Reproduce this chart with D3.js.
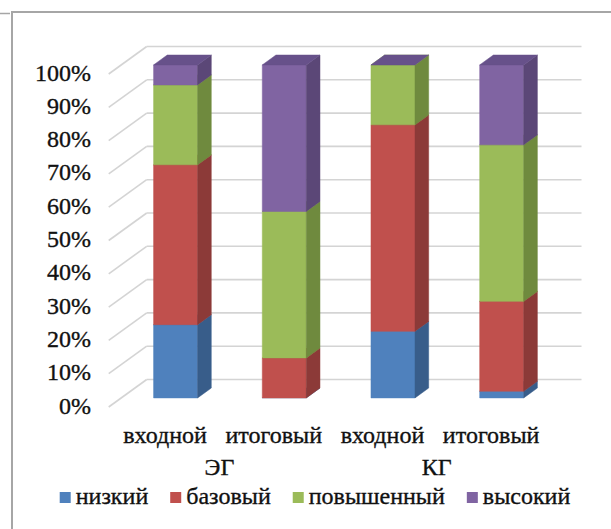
<!DOCTYPE html>
<html>
<head>
<meta charset="utf-8">
<script src="https://cdn.jsdelivr.net/npm/d3@7/dist/d3.min.js"></script>
<style>
  html, body { margin: 0; padding: 0; background: #fff; }
  svg { display: block; }
</style>
</head>
<body>
<svg id="chart" width="611" height="529"></svg>
<script>
// Level distribution (%) for the experimental (ЭГ) and control (КГ) groups
const categories = ["входной", "итоговый", "входной", "итоговый"];
const groups = [
  { name: "ЭГ", members: [0, 1] },
  { name: "КГ", members: [2, 3] }
];
const seriesNames = ["низкий", "базовый", "повышенный", "высокий"];
const low      = [22, 0, 20, 2];
const base     = [48, 12, 62, 27];
const advanced = [24, 44, 18, 47];
const high     = [6, 44, 0, 24];
const yTicks = [0, 10, 20, 30, 40, 50, 60, 70, 80, 90, 100];

const seriesValues = [low, base, advanced, high];
const faceColors = [
  { front: "#4F81BD", side: "#385D8A", top: "#4672A8" },
  { front: "#C0504D", side: "#8C3A38", top: "#A94644" },
  { front: "#9BBB59", side: "#6F8A3E", top: "#89A54E" },
  { front: "#8064A2", side: "#5B4777", top: "#67518A" }
];

const FONT = "Liberation Serif";
const FONT_SIZE = 24;

const svg = d3.select("#chart");

// Oblique projection: depth d in [0,1] from the front edge to the back wall
const DEPTH_X = 38, DEPTH_Y = -27.5;
const BAR_D0 = 0.33, BAR_D1 = 0.69;

const y = d3.scaleLinear().domain([0, 100]).range([407, 74]);
const x = d3.scaleBand()
  .domain(d3.range(categories.length))
  .range([108.7, 543.5])
  .paddingInner(0.595)
  .paddingOuter(0.2975);

const px = (xv, d) => xv + DEPTH_X * d;
const py = (v, d) => y(v) + DEPTH_Y * d;

// Chart frame
const frame = svg.append("g").attr("stroke", "#A6A6A6").attr("stroke-width", 2).attr("fill", "none");
frame.append("line").attr("x1", 12).attr("y1", 11).attr("x2", 12).attr("y2", 529);
frame.append("line").attr("x1", 11).attr("y1", 12).attr("x2", 611).attr("y2", 12);
frame.append("line").attr("x1", 0).attr("y1", 13.5).attr("x2", 10).attr("y2", 13.5).attr("stroke-width", 1.5);

// Gridlines on the back wall and the side wall
const wallLeft = x.range()[0], wallRight = x.range()[1];
const grid = svg.append("g").attr("stroke", "#D4D4D4").attr("stroke-width", 1.6).attr("fill", "none");
yTicks.forEach(t => {
  grid.append("line")
    .attr("x1", px(wallLeft, 1)).attr("y1", py(t, 1))
    .attr("x2", px(wallRight, 1)).attr("y2", py(t, 1));
  grid.append("line")
    .attr("x1", px(wallLeft, 0)).attr("y1", py(t, 0))
    .attr("x2", px(wallLeft, 1)).attr("y2", py(t, 1));
});

const label = sel => sel
  .style("font-family", FONT)
  .style("font-size", FONT_SIZE + "px")
  .attr("fill", "#111")
  .attr("stroke", "#111")
  .attr("stroke-width", 0.35);

// Value axis labels
svg.append("g").selectAll("text")
  .data(yTicks)
  .join("text")
  .call(label)
  .attr("x", 91)
  .attr("y", t => y(t) + 6.5)
  .attr("text-anchor", "end")
  .text(t => t + "%");

// Stacked 3D columns
const stackData = categories.map((c, i) => {
  const row = { index: i };
  seriesNames.forEach((s, k) => { row[s] = seriesValues[k][i]; });
  return row;
});
const stacked = d3.stack().keys(seriesNames)(stackData);

const poly = pts => pts.map(p => p.join(",")).join(" ");
const bars = svg.append("g");
categories.forEach((c, i) => {
  const x0 = x(i), x1 = x(i) + x.bandwidth();
  const g = bars.append("g");
  stacked.forEach((layer, k) => {
    const [v0, v1] = layer[i];
    const col = faceColors[k];
    if (v1 > v0) {
      // front face
      g.append("polygon")
        .attr("points", poly([
          [px(x0, BAR_D0), py(v0, BAR_D0)], [px(x1, BAR_D0), py(v0, BAR_D0)],
          [px(x1, BAR_D0), py(v1, BAR_D0)], [px(x0, BAR_D0), py(v1, BAR_D0)]
        ]))
        .attr("fill", col.front).attr("stroke", col.front).attr("stroke-width", 0.5);
      // right side face
      g.append("polygon")
        .attr("points", poly([
          [px(x1, BAR_D0), py(v0, BAR_D0)], [px(x1, BAR_D1), py(v0, BAR_D1)],
          [px(x1, BAR_D1), py(v1, BAR_D1)], [px(x1, BAR_D0), py(v1, BAR_D0)]
        ]))
        .attr("fill", col.side).attr("stroke", col.side).attr("stroke-width", 0.5);
    }
    // top face
    g.append("polygon")
      .attr("points", poly([
        [px(x0, BAR_D0), py(v1, BAR_D0)], [px(x1, BAR_D0), py(v1, BAR_D0)],
        [px(x1, BAR_D1), py(v1, BAR_D1)], [px(x0, BAR_D1), py(v1, BAR_D1)]
      ]))
      .attr("fill", col.top).attr("stroke", col.top).attr("stroke-width", 0.5);
  });
});

// Category labels and group labels
const catCenter = i => x(i) + x.bandwidth() / 2 + 2;
svg.append("g").selectAll("text")
  .data(categories)
  .join("text")
  .call(label)
  .attr("x", (d, i) => catCenter(i))
  .attr("y", 443)
  .attr("text-anchor", "middle")
  .text(d => d);

svg.append("g").selectAll("text")
  .data(groups)
  .join("text")
  .call(label)
  .attr("x", g => d3.mean(g.members, catCenter))
  .attr("y", 475)
  .attr("text-anchor", "middle")
  .text(g => g.name);

// Legend
const legend = svg.append("g");
const items = legend.selectAll("g").data(seriesNames).join("g");
items.append("rect")
  .attr("width", 11).attr("height", 11)
  .attr("y", 492)
  .attr("fill", (d, k) => faceColors[k].front);
items.append("text")
  .call(label)
  .attr("x", 16)
  .attr("y", 504)
  .text(d => d);
const GAP = 22;
let cursor = 0;
const offsets = [];
items.each(function () {
  offsets.push(cursor);
  cursor += 16 + this.querySelector("text").getComputedTextLength() + GAP;
});
const legendWidth = cursor - GAP;
const legendStart = 315 - legendWidth / 2;
items.attr("transform", (d, k) => `translate(${legendStart + offsets[k]},0)`);
</script>
</body>
</html>
